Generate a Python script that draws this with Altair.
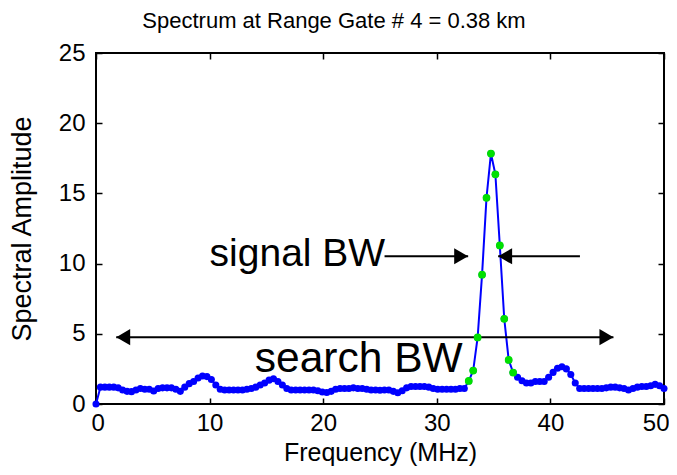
import altair as alt
import pandas as pd
import numpy as np

FONT = "Liberation Sans"

# frequency grid (129 samples, 0..50 MHz)
freq = [round(v, 4) for v in np.linspace(0, 50, 129)]
amp = [
    0.0, 1.2, 1.2, 1.2, 1.2, 1.15, 1.0, 0.9, 0.88, 1.0,
    1.1, 1.05, 1.05, 0.92, 1.1, 1.15, 1.15, 1.15, 1.05, 0.9,
    1.2, 1.45, 1.6, 1.85, 2.0, 1.95, 1.75, 1.35, 1.05, 1.0,
    1.0, 1.0, 1.0, 1.0, 1.05, 1.1, 1.2, 1.35, 1.5, 1.7,
    1.8, 1.6, 1.35, 1.1, 1.0, 1.0, 1.0, 1.0, 1.0, 1.0,
    0.95, 0.85, 0.82, 0.9, 1.05, 1.1, 1.1, 1.1, 1.15, 1.1,
    1.1, 1.05, 1.0, 1.0, 0.98, 1.0, 1.0, 0.9, 0.8, 0.95,
    1.15, 1.25, 1.25, 1.25, 1.25, 1.2, 1.1, 1.05, 1.05, 1.05,
    1.05, 1.05, 1.1, 1.1, 1.64, 2.38, 4.74, 9.21, 14.69, 17.84,
    16.36, 11.29, 6.07, 3.14, 2.24, 1.9, 1.65, 1.5, 1.5, 1.6,
    1.6, 1.6, 1.9, 2.25, 2.55, 2.65, 2.5, 2.1, 1.5, 1.1,
    1.1, 1.1, 1.1, 1.1, 1.1, 1.15, 1.2, 1.2, 1.15, 1.1,
    1.0, 1.1, 1.2, 1.25, 1.25, 1.3, 1.4, 1.3, 1.1,
]
sig_first, sig_last = 84, 94  # samples inside the signal bandwidth (green)

x_ticks = [0, 10, 20, 30, 40, 50]
y_ticks = [0, 5, 10, 15, 20, 25]

ann_text = ["signal BW", "search BW"]
ann_x = [10.0, 13.98]
ann_y = [9.86, 2.29]
ann_size = [39, 42.5]

rule_x1 = [25.4, 35.4, 1.78]
rule_x2 = [32.76, 42.6, 45.55]
rule_y = [10.52, 10.52, 4.76]

head_r_x = [32.76, 45.55]
head_r_y = [10.52, 4.76]
head_l_x = [35.4, 1.78]
head_l_y = [10.52, 4.76]

df = pd.DataFrame({"f": freq, "a": amp})
df_sig = df.iloc[sig_first:sig_last + 1]
df_ann = pd.DataFrame({"t": ann_text, "f": ann_x, "a": ann_y, "s": ann_size})
df_rule = pd.DataFrame({"f": rule_x1, "f2": rule_x2, "a": rule_y})
df_hr = pd.DataFrame({"f": head_r_x, "a": head_r_y})
df_hl = pd.DataFrame({"f": head_l_x, "a": head_l_y})

xs = alt.Scale(domain=[0, 50], nice=False, zero=False)
ys = alt.Scale(domain=[0, 25], nice=False, zero=False)

def tick_axis(orient):
    return alt.Axis(orient=orient, offset=-6, tickSize=6, ticks=True, tickColor="black",
                    tickWidth=1.5, labels=False, domain=False, grid=False, title="",
                    values=x_ticks if orient in ("top", "bottom") else y_ticks)

X_main = alt.X("f:Q", scale=xs, axis=alt.Axis(
    title="Frequency (MHz)", values=x_ticks, ticks=False, domain=False, grid=False,
    labelFlush=True, labelFlushOffset=5, labelOverlap=False,
    labelFont=FONT, labelFontSize=24, labelColor="black", labelPadding=7,
    titleFont=FONT, titleFontSize=25, titleFontWeight="normal", titleColor="black",
    titlePadding=5))
Y_main = alt.Y("a:Q", scale=ys, axis=alt.Axis(
    title="Spectral Amplitude", values=y_ticks, ticks=False, domain=False, grid=False,
    labelFlush=False, labelOverlap=False,
    labelFont=FONT, labelFontSize=24, labelColor="black", labelPadding=11,
    titleFont=FONT, titleFontSize=27, titleFontWeight="normal", titleColor="black",
    titlePadding=22))

Xn = alt.X("f:Q", scale=xs, axis=None)
Yn = alt.Y("a:Q", scale=ys, axis=None)

line = alt.Chart(df).mark_line(color="#0000ff", strokeWidth=2).encode(x=X_main, y=Y_main)
pts = alt.Chart(df).mark_circle(color="#0000ff", size=50, opacity=1).encode(x=Xn, y=Yn)
grn = alt.Chart(df_sig).mark_circle(color="#00e000", size=60, opacity=1).encode(x=Xn, y=Yn)

ticks_bl = alt.Chart(df).mark_point(opacity=0).encode(
    x=alt.X("f:Q", scale=xs, axis=tick_axis("bottom")),
    y=alt.Y("a:Q", scale=ys, axis=tick_axis("left")))
ticks_tr = alt.Chart(df).mark_point(opacity=0).encode(
    x=alt.X("f:Q", scale=xs, axis=tick_axis("top")),
    y=alt.Y("a:Q", scale=ys, axis=tick_axis("right")))

rules = alt.Chart(df_rule).mark_rule(color="black", strokeWidth=2).encode(
    x=Xn, x2="f2:Q", y=Yn)
heads_r = alt.Chart(df_hr).mark_point(shape="triangle-right", size=260, filled=True,
                                      color="black", opacity=1, xOffset=-7).encode(x=Xn, y=Yn)
heads_l = alt.Chart(df_hl).mark_point(shape="triangle-left", size=260, filled=True,
                                      color="black", opacity=1, xOffset=7).encode(x=Xn, y=Yn)
texts = alt.Chart(df_ann).mark_text(align="left", baseline="alphabetic", font=FONT,
                                    color="black").encode(
    x=Xn, y=Yn, text="t:N", size=alt.Size("s:Q", scale=None, legend=None))

chart = alt.layer(
    line, ticks_bl, ticks_tr, rules, heads_r, heads_l, texts, pts, grn
).resolve_axis(x="independent", y="independent").properties(
    width=568, height=351,
    autosize=alt.AutoSizeParams(type="none"),
    padding={"left": 88, "top": 45, "right": 5, "bottom": 63},
    title=alt.TitleParams("Spectrum at Range Gate # 4 = 0.38 km", font=FONT, fontSize=22,
                          fontWeight="normal", color="black", anchor="middle",
                          frame="group", dx=-46, offset=8),
    background="white",
).configure_view(stroke="black", strokeWidth=2)

chart.save("out.html", embed_options={"renderer": "svg", "actions": False})
